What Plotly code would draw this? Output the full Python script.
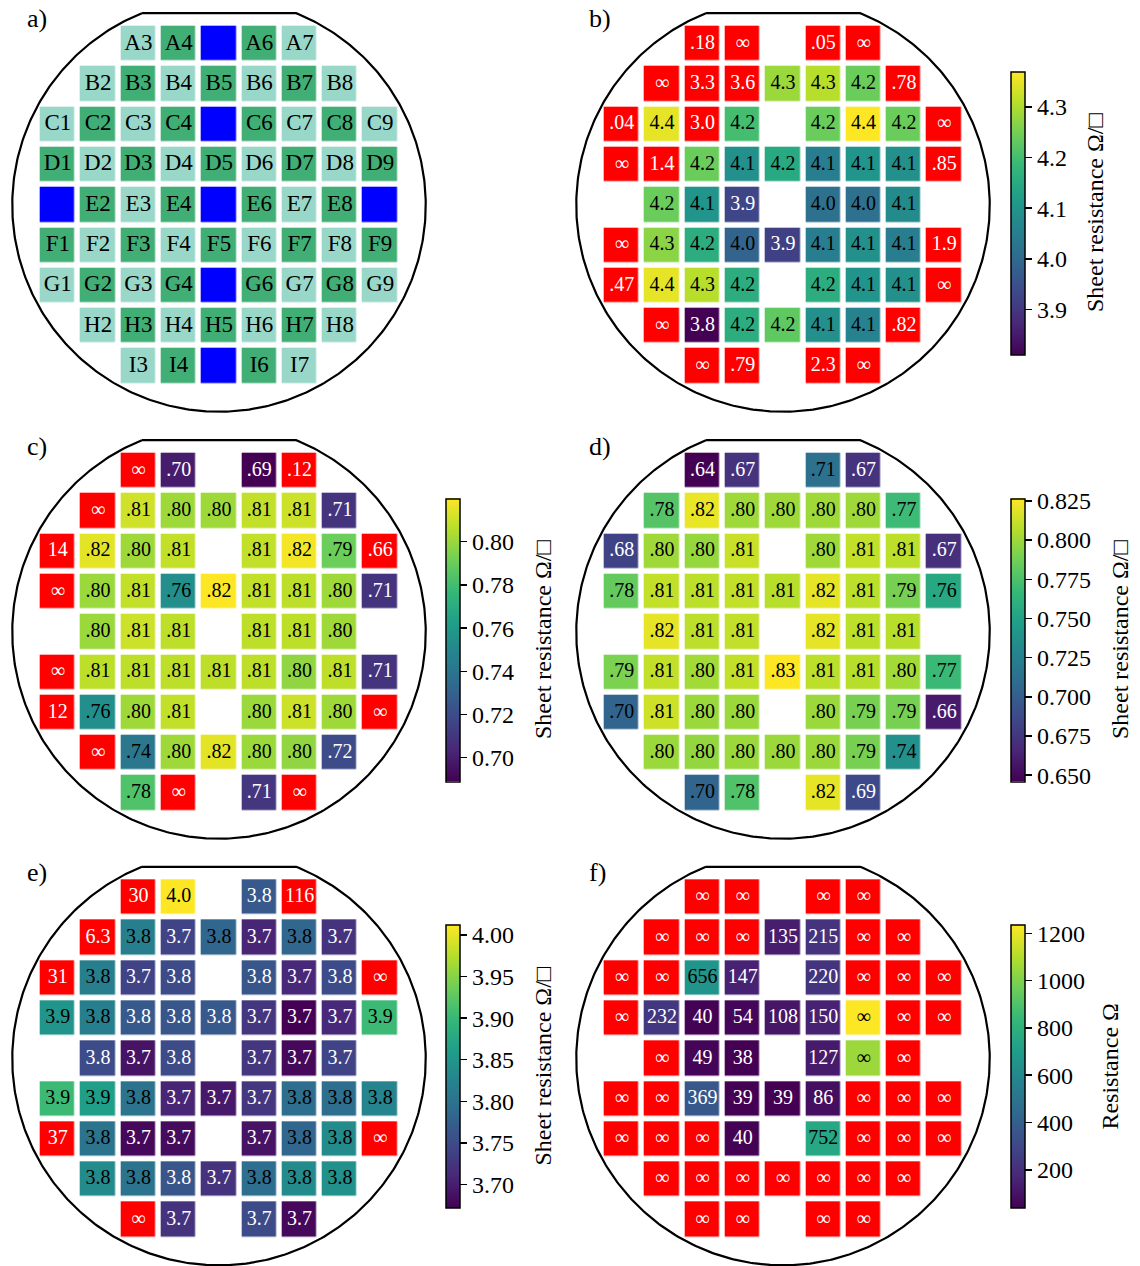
import numpy as np
import plotly.graph_objects as go

N = None
ROWS = list("ABCDEFGHI")
COLS = [1, 2, 3, 4, 5, 6, 7, 8, 9]

# ---- panel a: die categories (0 = light, 1 = dark, 2 = blue / not measured)
cat_a = [
    [N, N, 0, 1, 2, 1, 0, N, N],
    [N, 0, 1, 0, 1, 0, 1, 0, N],
    [0, 1, 0, 1, 2, 1, 0, 1, 0],
    [1, 0, 1, 0, 1, 0, 1, 0, 1],
    [2, 1, 0, 1, 2, 1, 0, 1, 2],
    [1, 0, 1, 0, 1, 0, 1, 0, 1],
    [0, 1, 0, 1, 2, 1, 0, 1, 0],
    [N, 0, 1, 0, 1, 0, 1, 0, N],
    [N, N, 0, 1, 2, 1, 0, N, N],
]

# ---- panel b
lab_b = [
    [N, N, ".18", "∞", N, ".05", "∞", N, N],
    [N, "∞", "3.3", "3.6", "4.3", "4.3", "4.2", ".78", N],
    [".04", "4.4", "3.0", "4.2", N, "4.2", "4.4", "4.2", "∞"],
    ["∞", "1.4", "4.2", "4.1", "4.2", "4.1", "4.1", "4.1", ".85"],
    [N, "4.2", "4.1", "3.9", N, "4.0", "4.0", "4.1", N],
    ["∞", "4.3", "4.2", "4.0", "3.9", "4.1", "4.1", "4.1", "1.9"],
    [".47", "4.4", "4.3", "4.2", N, "4.2", "4.1", "4.1", "∞"],
    [N, "∞", "3.8", "4.2", "4.2", "4.1", "4.1", ".82", N],
    [N, N, "∞", ".79", N, "2.3", "∞", N, N],
]
val_b = [
    [N, N, N, N, N, N, N, N, N],
    [N, N, N, N, 4.285, 4.31, 4.24, N, N],
    [N, 4.35, N, 4.20, N, 4.24, 4.37, 4.24, N],
    [N, N, 4.24, 4.09, 4.15, 4.05, 4.10, 4.09, N],
    [N, 4.24, 4.10, 3.93, N, 4.02, 4.02, 4.08, N],
    [N, 4.27, 4.16, 3.99, 3.92, 4.05, 4.09, 4.05, N],
    [N, 4.35, 4.31, 4.16, N, 4.16, 4.10, 4.09, N],
    [N, N, 3.811, 4.16, 4.23, 4.09, 4.06, N, N],
    [N, N, N, N, N, N, N, N, N],
]

# ---- panel c
lab_c = [
    [N, N, "∞", ".70", N, ".69", ".12", N, N],
    [N, "∞", ".81", ".80", ".80", ".81", ".81", ".71", N],
    ["14", ".82", ".80", ".81", N, ".81", ".82", ".79", ".66"],
    ["∞", ".80", ".81", ".76", ".82", ".81", ".81", ".80", ".71"],
    [N, ".80", ".81", ".81", N, ".81", ".81", ".80", N],
    ["∞", ".81", ".81", ".81", ".81", ".81", ".80", ".81", ".71"],
    ["12", ".76", ".80", ".81", N, ".80", ".81", ".80", "∞"],
    [N, "∞", ".74", ".80", ".82", ".80", ".80", ".72", N],
    [N, N, ".78", "∞", N, ".71", "∞", N, N],
]
val_c = [
    [N, N, N, 0.699, N, 0.689, N, N, N],
    [N, N, 0.811, 0.801, 0.801, 0.808, 0.810, 0.709, N],
    [N, 0.815, 0.801, 0.808, N, 0.808, 0.818, 0.790, N],
    [N, 0.800, 0.808, 0.754, 0.820, 0.808, 0.807, 0.801, 0.709],
    [N, 0.800, 0.810, 0.807, N, 0.807, 0.807, 0.801, N],
    [N, 0.807, 0.807, 0.807, 0.807, 0.807, 0.798, 0.807, 0.709],
    [N, 0.754, 0.801, 0.808, N, 0.800, 0.810, 0.801, N],
    [N, N, 0.741, 0.801, 0.815, 0.800, 0.798, 0.719, N],
    [N, N, 0.783, N, N, 0.710, N, N, N],
]

# ---- panel d
lab_d = [
    [N, N, ".64", ".67", N, ".71", ".67", N, N],
    [N, ".78", ".82", ".80", ".80", ".80", ".80", ".77", N],
    [".68", ".80", ".80", ".81", N, ".80", ".81", ".81", ".67"],
    [".78", ".81", ".81", ".81", ".81", ".82", ".81", ".79", ".76"],
    [N, ".82", ".81", ".81", N, ".82", ".81", ".81", N],
    [".79", ".81", ".80", ".81", ".83", ".81", ".81", ".80", ".77"],
    [".70", ".81", ".80", ".80", N, ".80", ".79", ".79", ".66"],
    [N, ".80", ".80", ".80", ".80", ".80", ".79", ".74", N],
    [N, N, ".70", ".78", N, ".82", ".69", N, N],
]
val_d = [
    [N, N, 0.646, 0.673, N, 0.713, 0.673, N, N],
    [N, 0.778, 0.821, 0.800, 0.800, 0.800, 0.800, 0.769, N],
    [0.682, 0.800, 0.798, 0.812, N, 0.800, 0.810, 0.808, 0.671],
    [0.783, 0.810, 0.808, 0.810, 0.807, 0.820, 0.808, 0.789, 0.754],
    [N, 0.820, 0.808, 0.810, N, 0.820, 0.808, 0.807, N],
    [0.790, 0.810, 0.801, 0.810, 0.8265, 0.808, 0.807, 0.801, 0.768],
    [0.704, 0.813, 0.799, 0.799, N, 0.799, 0.789, 0.789, 0.659],
    [N, 0.799, 0.797, 0.799, 0.799, 0.799, 0.789, 0.736, N],
    [N, N, 0.704, 0.776, N, 0.820, 0.686, N, N],
]

# ---- panel e
lab_e = [
    [N, N, "30", "4.0", N, "3.8", "116", N, N],
    [N, "6.3", "3.8", "3.7", "3.8", "3.7", "3.8", "3.7", N],
    ["31", "3.8", "3.7", "3.8", N, "3.8", "3.7", "3.8", "∞"],
    ["3.9", "3.8", "3.8", "3.8", "3.8", "3.7", "3.7", "3.7", "3.9"],
    [N, "3.8", "3.7", "3.8", N, "3.7", "3.7", "3.7", N],
    ["3.9", "3.9", "3.8", "3.7", "3.7", "3.7", "3.8", "3.8", "3.8"],
    ["37", "3.8", "3.7", "3.7", N, "3.7", "3.8", "3.8", "∞"],
    [N, "3.8", "3.8", "3.8", "3.7", "3.8", "3.8", "3.8", N],
    [N, N, "∞", "3.7", N, "3.7", "3.7", N, N],
]
val_e = [
    [N, N, N, 4.012, N, 3.767, N, N, N],
    [N, N, 3.818, 3.740, 3.784, 3.706, 3.784, 3.722, N],
    [N, 3.818, 3.740, 3.750, N, 3.763, 3.709, 3.750, N],
    [3.849, 3.818, 3.767, 3.763, 3.767, 3.726, 3.6715, 3.709, 3.903],
    [N, 3.750, 3.689, 3.750, N, 3.726, 3.678, 3.740, N],
    [3.903, 3.862, 3.801, 3.706, 3.695, 3.726, 3.794, 3.794, 3.825],
    [N, 3.801, 3.678, 3.682, N, 3.689, 3.784, 3.835, N],
    [N, 3.835, 3.801, 3.763, 3.722, 3.794, 3.835, 3.842, N],
    [N, N, N, 3.722, N, 3.750, 3.678, N, N],
]

# ---- panel f
lab_f = [
    [N, N, "∞", "∞", N, "∞", "∞", N, N],
    [N, "∞", "∞", "∞", "135", "215", "∞", "∞", N],
    ["∞", "∞", "656", "147", N, "220", "∞", "∞", "∞"],
    ["∞", "232", "40", "54", "108", "150", "∞", "∞", "∞"],
    [N, "∞", "49", "38", N, "127", "∞", "∞", N],
    ["∞", "∞", "369", "39", "39", "86", "∞", "∞", "∞"],
    ["∞", "∞", "∞", "40", N, "752", "∞", "∞", "∞"],
    [N, "∞", "∞", "∞", "∞", "∞", "∞", "∞", N],
    [N, N, "∞", "∞", N, "∞", "∞", N, N],
]
val_f = [
    [N, N, N, N, N, N, N, N, N],
    [N, N, N, N, 135, 215, N, N, N],
    [N, N, 656, 147, N, 220, N, N, N],
    [N, 232, 40, 54, 108, 150, 1235, N, N],
    [N, N, 49, 38, N, 127, 1055, N, N],
    [N, N, 369, 39, 39, 86, N, N, N],
    [N, N, N, 40, N, 752, N, N, N],
    [N, N, N, N, N, N, N, N, N],
    [N, N, N, N, N, N, N, N, N],
]

cbar_titles = ["Sheet resistance Ω/□", "Sheet resistance Ω/□", "Sheet resistance Ω/□",
               "Sheet resistance Ω/□", "Resistance Ω"]
cbar_ticks = [
    [3.9, 4.0, 4.1, 4.2, 4.3],
    [0.70, 0.72, 0.74, 0.76, 0.78, 0.80],
    [0.650, 0.675, 0.700, 0.725, 0.750, 0.775, 0.800, 0.825],
    [3.70, 3.75, 3.80, 3.85, 3.90, 3.95, 4.00],
    [200, 400, 600, 800, 1000, 1200],
]
cbar_fmt = [".1f", ".2f", ".3f", ".2f", "d"]

# ---------------- layout geometry (pixels) ----------------
W, H = 1140, 1266
P = 40.3                      # pixels per die pitch
CX = [219.0, 783.0]
CY = [205.0, 632.0, 1058.6]
R_WAFER, FLAT = 5.13, 4.76
FONT = "Liberation Serif"
LIGHT, DARK, BLUE = "#99d8c9", "#41ae76", "#0000ff"

panel_pos = [(CX[0], CY[0]), (CX[1], CY[0]), (CX[0], CY[1]),
             (CX[1], CY[1]), (CX[0], CY[2]), (CX[1], CY[2])]
panel_letters = ["a)", "b)", "c)", "d)", "e)", "f)"]

xs = [c - 5 for c in COLS]            # die x positions
ys = [4 - i for i in range(9)]        # die y positions (A top)

fig = go.Figure()
layout_axes = {}
annotations = []

a0 = np.arcsin(FLAT / R_WAFER)
t = np.linspace(np.pi - a0, 2 * np.pi + a0, 400)
circ_x = list(R_WAFER * np.cos(t)) + [R_WAFER * np.cos(t[0])]
circ_y = list(R_WAFER * np.sin(t)) + [R_WAFER * np.sin(t[0])]

gap = P - 34.7

for k, (cx, cy) in enumerate(panel_pos):
    n = "" if k == 0 else str(k + 1)
    ext = 5.25 * P
    xl, xr = max(0, cx - ext), min(W, cx + ext)
    yt, yb = max(0, cy - ext), min(H, cy + ext)
    layout_axes["xaxis" + n] = dict(domain=[xl / W, xr / W], range=[(xl - cx) / P, (xr - cx) / P],
                                    visible=False, fixedrange=True)
    layout_axes["yaxis" + n] = dict(domain=[1 - yb / H, 1 - yt / H], range=[(cy - yb) / P, (cy - yt) / P],
                                    visible=False, fixedrange=True)
    xa, ya = "x" + n, "y" + n

    if k == 0:
        z = [[np.nan if v is None else v for v in row] for row in cat_a]
        fig.add_trace(go.Heatmap(
            x=xs, y=ys, z=z, xaxis=xa, yaxis=ya, zmin=0, zmax=2, showscale=False,
            colorscale=[[0, LIGHT], [0.33, LIGHT], [0.33, DARK], [0.66, DARK], [0.66, BLUE], [1, BLUE]],
            xgap=gap, ygap=gap, hoverinfo="skip"))
        tx, ty, tt = [], [], []
        for i, row in enumerate(cat_a):
            for j, v in enumerate(row):
                if v is not None and v != 2:
                    tx.append(xs[j]); ty.append(ys[i]); tt.append(f"{ROWS[i]}{COLS[j]}")
        fig.add_trace(go.Scatter(x=tx, y=ty, text=tt, mode="text", xaxis=xa, yaxis=ya,
                                 textfont=dict(family=FONT, size=23, color="black"),
                                 hoverinfo="skip", showlegend=False))
    else:
        labs = [lab_b, lab_c, lab_d, lab_e, lab_f][k - 1]
        vals = [val_b, val_c, val_d, val_e, val_f][k - 1]
        z = np.array([[np.nan if v is None else v for v in row] for row in vals], dtype=float)
        zmin, zmax = float(np.nanmin(z)), float(np.nanmax(z))
        red = [[1 if (labs[i][j] is not None and vals[i][j] is None) else np.nan for j in range(9)]
               for i in range(9)]
        fig.add_trace(go.Heatmap(
            x=xs, y=ys, z=red, xaxis=xa, yaxis=ya, zmin=0, zmax=1, showscale=False,
            colorscale=[[0, "#ff0000"], [1, "#ff0000"]], xgap=gap, ygap=gap, hoverinfo="skip"))
        bar_left = (446.0 if cx < 500 else 1011.0)
        fig.add_trace(go.Heatmap(
            x=xs, y=ys, z=z, xaxis=xa, yaxis=ya, zmin=zmin, zmax=zmax,
            colorscale="Viridis", xgap=gap, ygap=gap, hoverinfo="skip",
            colorbar=dict(
                x=bar_left / W, xanchor="left", xpad=0, ypad=0,
                y=1 - (cy + 8) / H, yanchor="middle", len=283, lenmode="pixels",
                thickness=14, outlinecolor="black", outlinewidth=1.5,
                ticks="outside", ticklen=7, tickwidth=1.5, tickcolor="black",
                tickvals=cbar_ticks[k - 1], tickformat=cbar_fmt[k - 1],
                tickfont=dict(family=FONT, size=24, color="black"))))
        tx, ty, tt, tc = [], [], [], []
        for i in range(9):
            for j in range(9):
                if labs[i][j] is None:
                    continue
                tx.append(xs[j]); ty.append(ys[i]); tt.append(labs[i][j])
                v = vals[i][j]
                if v is None:
                    tc.append("white")
                else:
                    tc.append("white" if (v - zmin) / (zmax - zmin) < 0.3 else "black")
        fig.add_trace(go.Scatter(x=tx, y=ty, text=tt, mode="text", xaxis=xa, yaxis=ya,
                                 textfont=dict(family=FONT, size=20, color=tc),
                                 hoverinfo="skip", showlegend=False))
        lab_x = {1: 1095, 2: 543, 3: 1120, 4: 543, 5: 1110}[k]
        annotations.append(dict(text=cbar_titles[k - 1], x=lab_x / W, y=1 - (cy + 8) / H,
                                xref="paper", yref="paper", xanchor="center", yanchor="middle",
                                textangle=-90, showarrow=False,
                                font=dict(family=FONT, size=24, color="black")))

    fig.add_trace(go.Scatter(x=circ_x, y=circ_y, mode="lines", xaxis=xa, yaxis=ya,
                             line=dict(color="black", width=2.2), hoverinfo="skip", showlegend=False))
    lx = cx - 219 + 25 + (0 if cx < 500 else -2)
    annotations.append(dict(text=panel_letters[k], x=lx / W, y=1 - (cy - 186) / H,
                            xref="paper", yref="paper", xanchor="left", yanchor="middle",
                            showarrow=False, font=dict(family=FONT, size=26, color="black")))

fig.update_layout(width=W, height=H, margin=dict(l=0, r=0, t=0, b=0),
                  paper_bgcolor="white", plot_bgcolor="rgba(0,0,0,0)",
                  showlegend=False, annotations=annotations, **layout_axes)

fig.write_html("out.html", config={"displayModeBar": False, "staticPlot": True},
               post_script="document.body.style.margin='0px';")
